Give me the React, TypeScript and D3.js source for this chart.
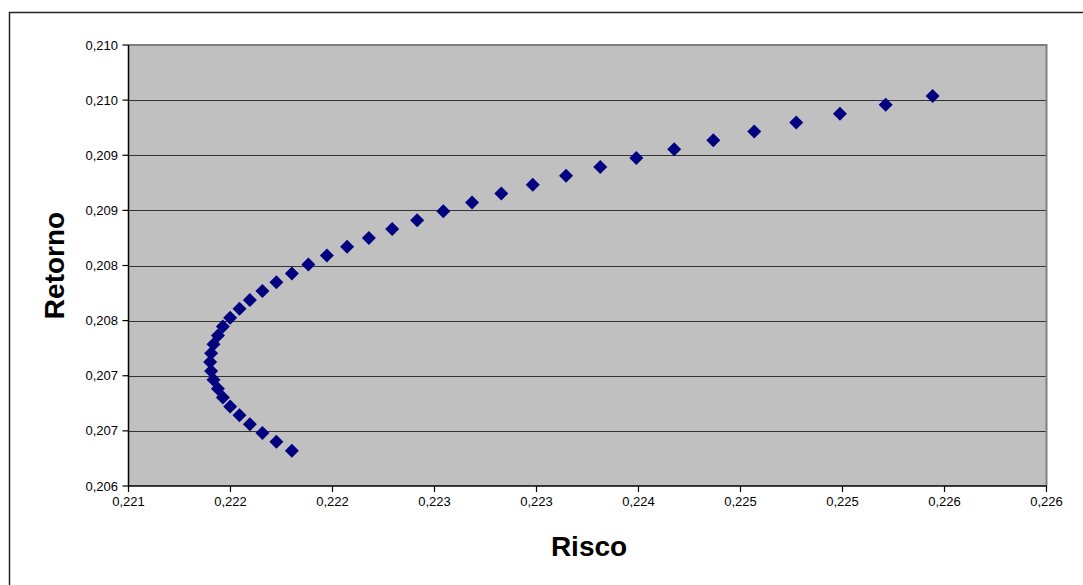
import * as d3 from "d3";

// risco (x) and retorno (y) of each frontier point
const risco = [
  0.221961, 0.22187, 0.221788, 0.221714, 0.221653, 0.221598, 0.221555, 0.221526, 0.2215, 0.221486,
  0.22148,
  0.221486, 0.2215, 0.221526, 0.221555, 0.221598, 0.221653, 0.221714, 0.221788, 0.22187, 0.221961,
  0.222058, 0.222167, 0.222286, 0.222414, 0.222551, 0.222698, 0.222852, 0.223021, 0.223193, 0.223378,
  0.223574, 0.223775, 0.223987, 0.22421, 0.22444, 0.224681, 0.224928, 0.225185, 0.225454, 0.22573,
];
const retorno = [
  0.20632, 0.206401, 0.206481, 0.206561, 0.206642, 0.206722, 0.206803, 0.206883, 0.206963, 0.207044,
  0.207125,
  0.207205, 0.207285, 0.207366, 0.207446, 0.207527, 0.207607, 0.207687, 0.207768, 0.207848, 0.207928,
  0.208009, 0.20809, 0.20817, 0.20825, 0.208331, 0.208411, 0.208492, 0.208572, 0.208652, 0.208733,
  0.208814, 0.208893, 0.208974, 0.209055, 0.209135, 0.209215, 0.209296, 0.209376, 0.209457, 0.209537,
];

const xTicks = [0.221, 0.2216, 0.2222, 0.2228, 0.2234, 0.224, 0.2246, 0.2252, 0.2258, 0.2264];
const xTickLabels = ["0,221", "0,222", "0,222", "0,223", "0,223", "0,224", "0,225", "0,225", "0,226", "0,226"];
const yTicks = [0.206, 0.2065, 0.207, 0.2075, 0.208, 0.2085, 0.209, 0.2095, 0.21];
const yTickLabels = ["0,206", "0,207", "0,207", "0,208", "0,208", "0,209", "0,209", "0,210", "0,210"];

const W = 1083;
const H = 585;
const plot = { left: 128.5, right: 1046.5, top: 45, bottom: 486 };
const font = "'Liberation Sans', Arial, sans-serif";

export default function App() {
  const x = d3.scaleLinear().domain([xTicks[0], xTicks[xTicks.length - 1]]).range([plot.left, plot.right]);
  const y = d3.scaleLinear().domain([yTicks[0], yTicks[yTicks.length - 1]]).range([plot.bottom, plot.top]);
  const diamond = d3.symbol(d3.symbolSquare, 98)() || "";

  return (
    <svg width={W} height={H} style={{ position: "absolute", left: 0, top: 0, background: "#fff" }}>
      {/* chart area border, runs off the right and bottom */}
      <rect x={9.5} y={12.5} width={1200} height={700} fill="#fff" stroke="#222" strokeWidth={1.5} />

      <rect x={plot.left} y={plot.top} width={plot.right - plot.left} height={plot.bottom - plot.top} fill="#c0c0c0" />

      {yTicks.slice(1, -1).map((t, i) => (
        <line key={i} x1={plot.left} x2={plot.right} y1={Math.round(y(t)) + 0.5} y2={Math.round(y(t)) + 0.5} stroke="#333" strokeWidth={1} />
      ))}

      {/* top and right plot border */}
      <polyline
        points={`${plot.left},${plot.top} ${plot.right},${plot.top} ${plot.right},${plot.bottom}`}
        fill="none"
        stroke="#808080"
        strokeWidth={2}
      />

      {risco.map((r, i) => (
        <path key={i} d={diamond} transform={`translate(${x(r)},${y(retorno[i])}) rotate(45)`} fill="#000080" />
      ))}

      {/* axes */}
      <line x1={plot.left} x2={plot.left} y1={plot.top} y2={plot.bottom} stroke="#000" strokeWidth={1.5} />
      <line x1={plot.left} x2={plot.right} y1={plot.bottom} y2={plot.bottom} stroke="#000" strokeWidth={1.5} />

      {yTicks.map((t, i) => (
        <g key={i}>
          <line x1={plot.left - 6} x2={plot.left} y1={y(t)} y2={y(t)} stroke="#000" strokeWidth={1.2} />
          <text x={118} y={y(t)} dy="0.35em" textAnchor="end" fontFamily={font} fontSize={13} fill="#000">
            {yTickLabels[i]}
          </text>
        </g>
      ))}

      {xTicks.map((t, i) => (
        <g key={i}>
          <line x1={x(t)} x2={x(t)} y1={plot.bottom} y2={plot.bottom + 6} stroke="#000" strokeWidth={1.2} />
          <text x={x(t)} y={506} textAnchor="middle" fontFamily={font} fontSize={13} fill="#000">
            {xTickLabels[i]}
          </text>
        </g>
      ))}

      <text x={589} y={556} textAnchor="middle" fontFamily={font} fontSize={28} fontWeight="bold" fill="#000">
        Risco
      </text>
      <text
        transform={`translate(64,${(plot.top + plot.bottom) / 2}) rotate(-90)`}
        textAnchor="middle"
        fontFamily={font}
        fontSize={28}
        fontWeight="bold"
        fill="#000"
      >
        Retorno
      </text>
    </svg>
  );
}
